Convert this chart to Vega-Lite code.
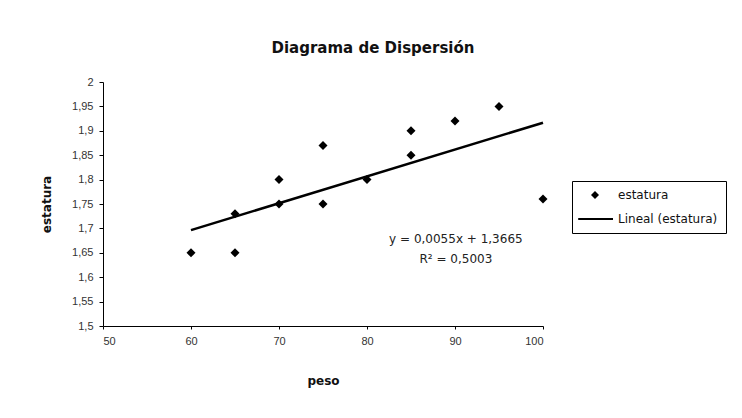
{
  "$schema": "https://vega.github.io/schema/vega-lite/v6.json",
  "width": 440,
  "height": 244,
  "autosize": {"type": "none"},
  "padding": {"left": 103, "top": 82, "right": 199, "bottom": 92},
  "background": "white",
  "title": {
    "text": "Diagrama de Dispersión",
    "font": "DejaVu Sans",
    "fontSize": 15,
    "fontWeight": "bold",
    "color": "#111",
    "anchor": "middle",
    "frame": "group",
    "dx": 50,
    "baseline": "alphabetic",
    "offset": 8
  },
  "datasets": {
    "puntos": [
      {"peso": 60, "estatura": 1.65, "serie": "estatura"},
      {"peso": 65, "estatura": 1.65, "serie": "estatura"},
      {"peso": 65, "estatura": 1.73, "serie": "estatura"},
      {"peso": 70, "estatura": 1.80, "serie": "estatura"},
      {"peso": 70, "estatura": 1.75, "serie": "estatura"},
      {"peso": 75, "estatura": 1.87, "serie": "estatura"},
      {"peso": 75, "estatura": 1.75, "serie": "estatura"},
      {"peso": 80, "estatura": 1.80, "serie": "estatura"},
      {"peso": 85, "estatura": 1.90, "serie": "estatura"},
      {"peso": 85, "estatura": 1.85, "serie": "estatura"},
      {"peso": 90, "estatura": 1.92, "serie": "estatura"},
      {"peso": 95, "estatura": 1.95, "serie": "estatura"},
      {"peso": 100, "estatura": 1.76, "serie": "estatura"}
    ],
    "tendencia": [
      {"peso": 60, "estatura": 1.6965},
      {"peso": 100, "estatura": 1.9165}
    ]
  },
  "layer": [
    {
      "data": {"name": "tendencia"},
      "mark": {"type": "line", "color": "black", "strokeWidth": 2.5},
      "encoding": {
        "x": {
          "field": "peso",
          "type": "quantitative",
          "scale": {"domain": [50, 100], "nice": false, "zero": false},
          "axis": {
            "title": "peso",
            "values": [50, 60, 70, 80, 90, 100],
            "grid": false,
            "domainColor": "black",
            "tickColor": "black",
            "tickSize": 3,
            "labelPadding": 6,
            "labelFont": "Liberation Sans",
            "labelFontSize": 11,
            "labelColor": "#333",
            "titleFont": "DejaVu Sans",
            "titleFontSize": 12,
            "titleFontWeight": "bold",
            "titleColor": "#111",
            "titlePadding": 29
          }
        },
        "y": {
          "field": "estatura",
          "type": "quantitative",
          "scale": {"domain": [1.5, 2], "nice": false, "zero": false},
          "axis": {
            "title": "estatura",
            "values": [1.5, 1.55, 1.6, 1.65, 1.7, 1.75, 1.8, 1.85, 1.9, 1.95, 2],
            "labelExpr": "replace(format(datum.value, '.2~f'), '.', ',')",
            "labelOverlap": false,
            "grid": false,
            "domainColor": "black",
            "tickColor": "black",
            "tickSize": 4,
            "labelPadding": 6,
            "labelFont": "Liberation Sans",
            "labelFontSize": 11,
            "labelColor": "#333",
            "titleFont": "DejaVu Sans",
            "titleFontSize": 12,
            "titleFontWeight": "bold",
            "titleColor": "#111",
            "titlePadding": 18
          }
        }
      }
    },
    {
      "data": {"name": "puntos"},
      "mark": {"type": "point", "filled": true, "color": "black", "opacity": 1, "size": 81},
      "encoding": {
        "x": {"field": "peso", "type": "quantitative"},
        "y": {
          "field": "estatura",
          "type": "quantitative",
          "axis": {
            "values": [1.5, 1.55, 1.6, 1.65, 1.7, 1.75, 1.8, 1.85, 1.9, 1.95, 2],
            "labelOverlap": false
          }
        },
        "shape": {
          "field": "serie",
          "type": "nominal",
          "scale": {
            "domain": ["estatura", "Lineal (estatura)"],
            "range": ["M0,-1L1,0L0,1L-1,0Z", "M-4.2,-0.25L4.5,-0.25L4.5,0.25L-4.2,0.25Z"]
          },
          "legend": {
            "title": null,
            "orient": "none",
            "legendX": 469,
            "legendY": 99,
            "padding": 8,
            "symbolOffset": 9,
            "strokeColor": "black",
            "fillColor": "white",
            "labelFont": "DejaVu Sans",
            "labelFontSize": 12,
            "labelColor": "#111",
            "labelOffset": 17,
            "rowPadding": 11,
            "symbolSize": 64,
            "symbolFillColor": "black",
            "symbolOpacity": 1
          }
        }
      }
    },
    {
      "data": {"values": [{}]},
      "mark": {"type": "text", "font": "DejaVu Sans", "fontSize": 12, "color": "#222", "align": "center", "baseline": "middle"},
      "encoding": {
        "x": {"datum": 90.1, "type": "quantitative"},
        "y": {
          "datum": 1.678,
          "type": "quantitative",
          "axis": {
            "values": [1.5, 1.55, 1.6, 1.65, 1.7, 1.75, 1.8, 1.85, 1.9, 1.95, 2],
            "labelOverlap": false
          }
        },
        "text": {"value": "y = 0,0055x + 1,3665"}
      }
    },
    {
      "data": {"values": [{}]},
      "mark": {"type": "text", "font": "DejaVu Sans", "fontSize": 12, "color": "#222", "align": "center", "baseline": "middle"},
      "encoding": {
        "x": {"datum": 90.1, "type": "quantitative"},
        "y": {
          "datum": 1.637,
          "type": "quantitative",
          "axis": {
            "values": [1.5, 1.55, 1.6, 1.65, 1.7, 1.75, 1.8, 1.85, 1.9, 1.95, 2],
            "labelOverlap": false
          }
        },
        "text": {"value": "R² = 0,5003"}
      }
    }
  ],
  "config": {
    "view": {"stroke": null},
    "axis": {"domainWidth": 1, "labelOverlap": false}
  }
}
